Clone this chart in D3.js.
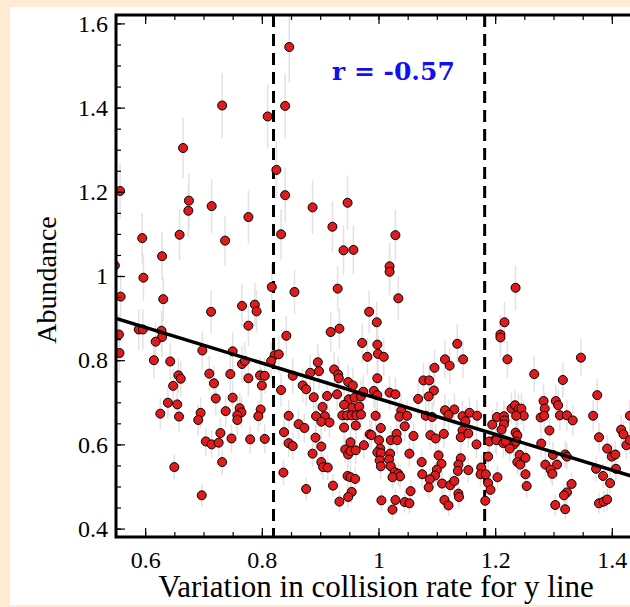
<!DOCTYPE html>
<html>
<head>
<meta charset="utf-8">
<script src="https://cdn.jsdelivr.net/npm/d3@7"></script>
<style>
  html, body { margin: 0; padding: 0; background: #feebd2; }
</style>
</head>
<body>
<div id="chart"></div>
<script>
var w = 630, h = 607;

// Data: collision-rate variation vs abundance
var points = [
  [0.847,1.544],[0.732,1.405],[0.840,1.404],[0.810,1.379],[0.665,1.304],[0.825,1.252],[0.557,1.202],[0.840,1.192],
  [0.675,1.179],[0.674,1.155],[0.714,1.166],[0.887,1.163],[0.947,1.174],[0.777,1.140],[0.921,1.117],[0.595,1.090],
  [0.659,1.098],[0.737,1.084],[0.833,1.099],[0.940,1.061],[0.957,1.062],[0.629,1.047],[0.597,0.996],[0.558,0.951],
  [0.631,0.945],[0.817,0.974],[0.856,0.962],[0.930,0.970],[0.713,0.915],[0.766,0.929],[0.788,0.932],[0.791,0.916],
  [0.777,0.882],[0.984,0.915],[0.918,0.867],[0.933,0.875],[0.589,0.873],[0.596,0.873],[0.628,0.870],[0.842,0.858],
  [0.555,0.861],[0.548,1.025],
  [1.029,1.097],[1.019,1.023],[1.019,1.010],[1.034,0.947],[0.997,0.890],[1.235,0.972],[1.216,0.890],[1.209,0.861],
  [0.556,0.817],[0.629,0.855],[0.618,0.844],[0.615,0.800],[0.643,0.797],[0.698,0.823],[0.750,0.821],[0.766,0.791],
  [0.657,0.764],[0.661,0.756],[0.648,0.739],[0.710,0.768],[0.746,0.767],[0.718,0.745],[0.639,0.699],[0.655,0.695],
  [0.626,0.673],[0.658,0.666],[0.721,0.709],[0.750,0.711],[0.695,0.675],[0.691,0.658],[0.738,0.679],[0.762,0.686],
  [0.765,0.676],[0.758,0.669],[0.758,0.658],[0.729,0.627],[0.704,0.607],[0.714,0.600],[0.726,0.604],[0.748,0.614],
  [0.732,0.558],[0.650,0.546],[0.697,0.479],
  [0.972,0.841],[0.981,0.808],[0.822,0.812],[0.829,0.814],[0.816,0.798],[0.771,0.798],[0.777,0.757],[0.797,0.764],
  [0.805,0.763],[0.800,0.740],[0.833,0.729],[0.853,0.763],[0.883,0.770],[0.896,0.795],[0.898,0.774],[0.924,0.778],
  [0.931,0.766],[0.932,0.757],[0.870,0.740],[0.876,0.731],[0.889,0.712],[0.912,0.715],[0.929,0.719],[0.948,0.748],
  [0.956,0.740],[0.949,0.707],[0.959,0.711],[0.970,0.714],[0.974,0.725],[0.941,0.694],[0.955,0.687],[0.967,0.690],
  [0.904,0.689],[0.893,0.667],[0.908,0.667],[0.902,0.654],[0.916,0.652],[0.938,0.669],[0.946,0.669],[0.954,0.669],
  [0.962,0.669],[0.970,0.671],[0.941,0.640],[0.961,0.645],[0.846,0.668],[0.798,0.683],[0.794,0.667],[0.863,0.648],
  [0.873,0.639],[0.838,0.629],[0.846,0.603],[0.853,0.596],[0.780,0.612],[0.805,0.613],[0.892,0.616],[0.902,0.595],
  [0.887,0.578],[0.902,0.558],[0.905,0.546],[0.913,0.545],[0.952,0.605],[0.943,0.588],[0.948,0.576],[0.952,0.584],
  [0.961,0.586],[0.975,0.598],[0.985,0.624],[0.837,0.533],[0.876,0.494],[0.922,0.502],[0.947,0.525],[0.952,0.522],
  [0.960,0.518],[0.954,0.487],[0.948,0.475],[0.933,0.464],
  [0.998,0.837],[0.999,0.815],[1.009,0.808],[1.135,0.839],[1.114,0.802],[1.122,0.787],[1.145,0.802],[1.096,0.782],
  [0.998,0.757],[1.077,0.752],[1.087,0.752],[0.992,0.727],[0.998,0.717],[1.019,0.723],[1.029,0.719],[1.095,0.728],
  [1.086,0.714],[1.068,0.708],[0.995,0.668],[1.039,0.680],[1.036,0.666],[1.049,0.668],[1.045,0.643],[1.004,0.639],
  [0.988,0.622],[1.081,0.668],[1.092,0.665],[1.114,0.681],[1.130,0.683],[1.120,0.670],[1.144,0.667],[1.156,0.675],
  [1.169,0.668],[1.089,0.622],[1.098,0.614],[1.112,0.625],[1.060,0.620],[1.031,0.625],[1.021,0.610],[1.032,0.610],
  [1.001,0.610],[1.003,0.590],[0.998,0.581],[1.004,0.579],[1.149,0.655],[1.144,0.633],[1.141,0.617],[1.154,0.626],
  [1.168,0.600],[1.053,0.578],[1.020,0.578],[1.018,0.564],[1.021,0.548],[1.002,0.562],[1.004,0.548],[1.103,0.574],
  [1.108,0.554],[1.141,0.567],[1.137,0.552],[1.136,0.537],[1.154,0.539],[1.074,0.558],[1.075,0.529],[1.100,0.540],
  [1.097,0.526],[1.088,0.517],[1.086,0.498],[1.028,0.534],[1.034,0.530],[1.037,0.524],[1.024,0.522],[1.109,0.507],
  [1.123,0.503],[1.130,0.513],[1.055,0.489],[1.005,0.467],[1.029,0.468],[1.045,0.463],[1.053,0.460],[1.024,0.445],
  [1.113,0.468],[1.120,0.455],[1.137,0.483],[1.138,0.475],[1.176,0.545],[1.175,0.529],[1.184,0.529],[1.188,0.508],
  [1.192,0.492],[1.183,0.466],[1.190,0.607],[1.188,0.571],[1.201,0.613],[1.203,0.665],[1.195,0.647],
  [1.209,0.854],[1.221,0.802],[1.267,0.767],[1.316,0.753],[1.347,0.806],[1.375,0.717],[1.368,0.668],[1.283,0.703],
  [1.285,0.685],[1.304,0.703],[1.308,0.693],[1.278,0.664],[1.284,0.668],[1.311,0.669],[1.323,0.669],[1.333,0.657],
  [1.228,0.685],[1.234,0.693],[1.240,0.683],[1.245,0.685],[1.249,0.668],[1.236,0.668],[1.215,0.667],
  [1.216,0.657],[1.215,0.648],[1.211,0.635],[1.235,0.628],[1.238,0.621],[1.293,0.633],[1.202,0.610],[1.214,0.603],
  [1.218,0.607],[1.232,0.600],[1.225,0.590],[1.236,0.607],[1.279,0.602],[1.299,0.575],[1.320,0.576],[1.323,0.571],
  [1.242,0.575],[1.252,0.568],[1.238,0.558],[1.243,0.552],[1.286,0.552],[1.306,0.552],[1.295,0.540],[1.298,0.530],
  [1.252,0.529],[1.254,0.501],[1.204,0.522],[1.378,0.617],[1.392,0.590],[1.400,0.571],[1.406,0.576],[1.373,0.542],
  [1.385,0.525],[1.397,0.508],[1.416,0.635],[1.420,0.624],[1.425,0.598],[1.431,0.668],[1.431,0.610],[1.407,0.542],
  [1.331,0.506],[1.323,0.486],[1.318,0.479],[1.303,0.456],[1.320,0.446],[1.378,0.460],[1.386,0.464],[1.392,0.469]
];

// Relative size of the grey error bars
var relErr = 0.055;

// Linear fit drawn across the plot
var fitX = [0.55, 1.45];
var fitY = [0.899, 0.518];

// Vertical dashed thresholds
var thresholds = [0.82, 1.182];

var xTicks = [0.6, 0.8, 1.0, 1.2, 1.4];
var yTicks = [0.4, 0.6, 0.8, 1.0, 1.2, 1.4, 1.6];
var corrLabel = "r = -0.57";

var pLeft = 116, pTop = 15, pBottom = 537, pRight = 641;

var x = d3.scaleLinear().domain([0.55, 1.45]).range([pLeft, pRight]);
var y = d3.scaleLinear().domain([0.38, 1.62]).range([pBottom, pTop]);

var svg = d3.select("#chart")
  .append("svg")
  .attr("width", w)
  .attr("height", h)
  .style("display", "block");

// White panel on cream background
svg.append("rect")
  .attr("x", 10).attr("y", 7)
  .attr("width", w).attr("height", 598)
  .attr("fill", "#ffffff");

svg.append("clipPath").attr("id", "clip")
  .append("rect")
  .attr("x", pLeft).attr("y", pTop)
  .attr("width", pRight - pLeft).attr("height", pBottom - pTop);

var plot = svg.append("g").attr("clip-path", "url(#clip)");

// error bars
plot.selectAll(".err")
  .data(points)
  .enter().append("line")
  .attr("class", "err")
  .attr("x1", function(d) { return x(d[0]); })
  .attr("x2", function(d) { return x(d[0]); })
  .attr("y1", function(d) { return y(d[1] * (1 - relErr)); })
  .attr("y2", function(d) { return y(d[1] * (1 + relErr)); })
  .attr("stroke", "#e2e2e2")
  .attr("stroke-width", 1.5);

// dashed threshold lines
plot.selectAll(".thr")
  .data(thresholds)
  .enter().append("line")
  .attr("x1", function(d) { return x(d); })
  .attr("x2", function(d) { return x(d); })
  .attr("y1", pTop)
  .attr("y2", pBottom)
  .attr("stroke", "#000")
  .attr("stroke-width", 3)
  .attr("stroke-dasharray", "12,7");

// points
plot.selectAll(".pt")
  .data(points)
  .enter().append("circle")
  .attr("class", "pt")
  .attr("cx", function(d) { return x(d[0]); })
  .attr("cy", function(d) { return y(d[1]); })
  .attr("r", 4.5)
  .attr("fill", "#e01b1e")
  .attr("stroke", "#000")
  .attr("stroke-width", 1);

// fit line
plot.append("line")
  .attr("x1", x(fitX[0])).attr("y1", y(fitY[0]))
  .attr("x2", x(fitX[1])).attr("y2", y(fitY[1]))
  .attr("stroke", "#000")
  .attr("stroke-width", 3.5);

// axes (ticks inside)
var xMinor = d3.range(0.55, 1.451, 0.05);
var yMinor = d3.range(0.4, 1.601, 0.05);

function styleAxis(g) {
  g.select(".domain").remove();
  g.selectAll(".tick line").attr("stroke", "#000").attr("stroke-width", 1.2);
}

svg.append("g").attr("transform", "translate(0," + pBottom + ")")
  .call(d3.axisBottom(x).tickValues(xMinor).tickSize(-5).tickFormat(""))
  .call(styleAxis);
svg.append("g").attr("transform", "translate(0," + pTop + ")")
  .call(d3.axisTop(x).tickValues(xMinor).tickSize(-5).tickFormat(""))
  .call(styleAxis);
svg.append("g").attr("transform", "translate(" + pLeft + ",0)")
  .call(d3.axisLeft(y).tickValues(yMinor).tickSize(-5).tickFormat(""))
  .call(styleAxis);

// major ticks with labels
svg.append("g").attr("transform", "translate(0," + pBottom + ")")
  .call(d3.axisBottom(x).tickValues(xTicks).tickSize(-9).tickPadding(14).tickFormat(d3.format("~g")))
  .call(styleAxis)
  .selectAll("text")
  .attr("font-family", "'Liberation Serif', serif")
  .attr("font-size", 24)
  .attr("fill", "#000");

svg.append("g").attr("transform", "translate(0," + pTop + ")")
  .call(d3.axisTop(x).tickValues(xTicks).tickSize(-9).tickFormat(""))
  .call(styleAxis);

svg.append("g").attr("transform", "translate(" + pLeft + ",0)")
  .call(d3.axisLeft(y).tickValues(yTicks).tickSize(-9).tickPadding(8).tickFormat(d3.format("~g")))
  .call(styleAxis)
  .selectAll("text")
  .attr("font-family", "'Liberation Serif', serif")
  .attr("font-size", 24)
  .attr("fill", "#000");

// frame
svg.append("path")
  .attr("d", "M" + pRight + "," + pTop + "H" + pLeft + "V" + pBottom + "H" + pRight)
  .attr("fill", "none")
  .attr("stroke", "#000")
  .attr("stroke-width", 3);

// correlation label
svg.append("text")
  .attr("x", 332).attr("y", 80)
  .attr("font-family", "'DejaVu Serif', serif")
  .attr("font-weight", "bold")
  .attr("font-size", 25)
  .attr("fill", "#1010f0")
  .text(corrLabel);

// axis titles
svg.append("text")
  .attr("x", 376).attr("y", 597)
  .attr("text-anchor", "middle")
  .attr("font-family", "'Liberation Serif', serif")
  .attr("font-size", 31)
  .attr("fill", "#000")
  .text("Variation in collision rate for y line");

svg.append("text")
  .attr("transform", "translate(56,280) rotate(-90)")
  .attr("text-anchor", "middle")
  .attr("font-family", "'Liberation Serif', serif")
  .attr("font-size", 28)
  .attr("fill", "#000")
  .text("Abundance");
</script>
</body>
</html>
